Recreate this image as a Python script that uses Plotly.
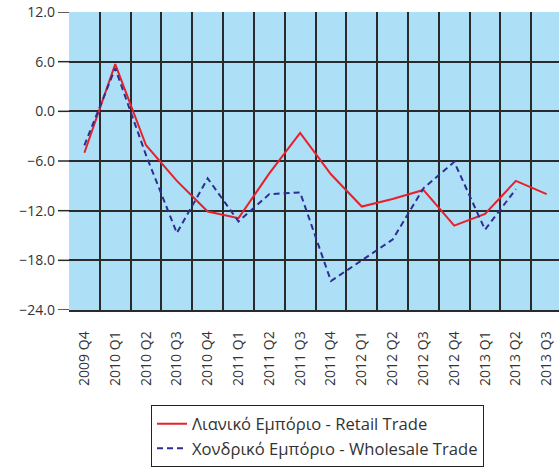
import plotly.graph_objects as go

categories = ["2009 Q4", "2010 Q1", "2010 Q2", "2010 Q3", "2010 Q4", "2011 Q1", "2011 Q2", "2011 Q3",
              "2011 Q4", "2012 Q1", "2012 Q2", "2012 Q3", "2012 Q4", "2013 Q1", "2013 Q2", "2013 Q3"]
retail = [-5.0, 5.7, -4.1, -8.4, -12.1, -12.9, -7.5, -2.6, -7.6, -11.5, -10.6, -9.5, -13.8, -12.4, -8.4, -10.0]
wholesale = [-4.1, 5.2, -5.3, -14.7, -8.1, -13.3, -10.0, -9.8, -20.5, -18.0, -15.5, -9.3, -6.1, -14.3, -9.4, None]
y_ticks = [12, 6, 0, -6, -12, -18, -24]

xs = list(range(len(categories)))

fig = go.Figure()
fig.add_trace(go.Scatter(x=xs, y=retail, mode="lines", name="Λιανικό Εμπόριο - Retail Trade",
                         line=dict(color="#E8202A", width=2)))
fig.add_trace(go.Scatter(x=xs, y=wholesale, mode="lines", name="Χονδρικό Εμπόριο - Wholesale Trade",
                         line=dict(color="#2E2E92", width=2, dash="6px,4px"), connectgaps=False))

grid = "#2a2a2a"
plot_w = 490
# short tick extensions to the left of the plot at each y tick
for v in y_ticks:
    fig.add_shape(type="line", xref="paper", yref="y", x0=-11 / plot_w, x1=0, y0=v, y1=v,
                  line=dict(color=grid, width=1.5), layer="above")

fig.update_layout(
    width=559, height=468,
    margin=dict(l=69, r=0, t=12, b=153),
    paper_bgcolor="white",
    plot_bgcolor="#ADDFF7",
    font=dict(family="Open Sans", size=14, color="#333333"),
    xaxis=dict(range=[-0.5, 15.4], tickmode="array", tickvals=xs, ticktext=categories,
               tickangle=-90, showgrid=False, zeroline=False, ticks="",
               ticklabelstandoff=14,
               showline=True, linecolor=grid, linewidth=1.5,
               minor=dict(tick0=-0.5, dtick=1, showgrid=True, gridcolor=grid, gridwidth=1.5, ticks="")),
    yaxis=dict(range=[-24, 12], tickmode="array", tickvals=y_ticks, tickformat=".1f",
               showgrid=True, gridcolor=grid, gridwidth=1.5, zeroline=False,
               ticks="", ticklabelstandoff=13,
               showline=False),
    showlegend=True,
    legend=dict(x=(151 - 69) / 490, xanchor="left", y=-0.32, yanchor="top",
                bordercolor="#222222", borderwidth=1, bgcolor="white",
                font=dict(family="Open Sans", size=16.6, color="#333333"),
                tracegroupgap=0),
)

fig.write_html("out.html", config={"displayModeBar": False},
               post_script="document.body.style.margin='0';document.body.style.overflow='hidden';")
